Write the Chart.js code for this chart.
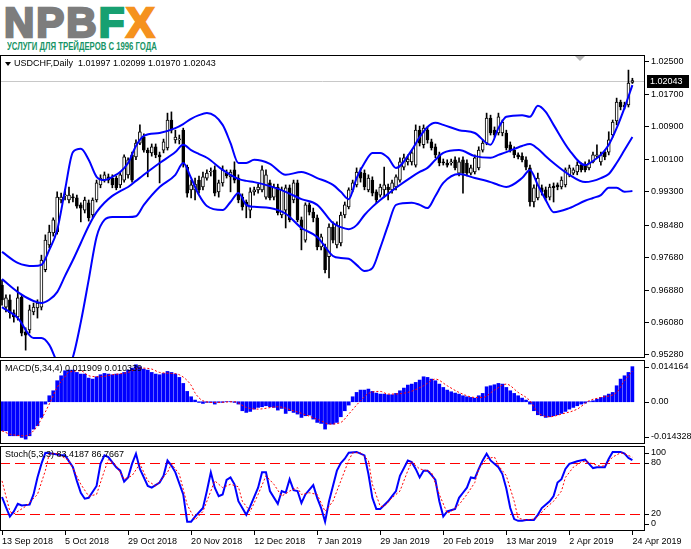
<!DOCTYPE html>
<html>
<head>
<meta charset="utf-8">
<title>USDCHF Daily</title>
<script src="https://cdn.jsdelivr.net/npm/chart.js@4.4.1/dist/chart.umd.min.js"></script>
<style>
  html, body { margin: 0; padding: 0; background: #fff; }
  #wrap { position: relative; width: 691px; height: 549px; overflow: hidden; background: #fff;
          font-family: "Liberation Sans", Arial, sans-serif; }
  #logo { position: absolute; left: 4px; top: 2px; font-family: "Liberation Sans", Arial, sans-serif;
          font-size: 42px; font-weight: 700; line-height: 42px; letter-spacing: 2px; color: #7d7d7d;
          -webkit-text-stroke: 2.5px currentColor; white-space: nowrap; transform-origin: 0 0; }
  #logo .f { color: #17a071; }
  #logo .x { color: #f5921e; }
  #slogan { position: absolute; left: 7px; top: 40px; font-size: 11px; font-weight: bold; color: #169466;
            white-space: nowrap; transform-origin: 0 0; }
  canvas { position: absolute; left: 0; }
</style>
</head>
<body>
<div id="wrap">
  <div id="logo">NPB<span class="f">F</span><span class="x">X</span></div>
  <div id="slogan">УСЛУГИ ДЛЯ ТРЕЙДЕРОВ С 1996 ГОДА</div>
  <canvas id="main" width="691" height="303" style="top:55px"></canvas>
  <canvas id="macd" width="691" height="84" style="top:360px"></canvas>
  <canvas id="stoch" width="691" height="103" style="top:446px"></canvas>
</div>
<script>
// --- dates on the time axis (one label every 16 bars) ---
const tickDates = ['13 Sep 2018', '5 Oct 2018', '29 Oct 2018', '20 Nov 2018', '12 Dec 2018', '7 Jan 2019',
                   '29 Jan 2019', '20 Feb 2019', '13 Mar 2019', '2 Apr 2019', '24 Apr 2019'];
const barsPerDate = 16;
const priceTicks = [1.025, 1.017, 1.009, 1.001, 0.993, 0.9848, 0.9768, 0.9688, 0.9608, 0.9528];
const priceRange = [0.95206, 1.02672];
const xRange = [-0.51, 163.2];

// --- USDCHF daily candles ---
const opens = [
  0.9700,0.9646,0.9664,0.9632,0.9622,0.9671,0.9585,0.9590,0.9634,0.9644,
  0.9646,0.9738,0.9799,0.9829,0.9831,0.9910,0.9920,0.9910,0.9917,0.9915,
  0.9898,0.9885,0.9903,0.9873,0.9910,0.9947,0.9959,0.9967,0.9964,0.9964,
  0.9947,0.9959,0.9972,1.0021,1.0016,1.0050,1.0065,1.0033,1.0026,1.0041,
  1.0021,1.0033,1.0038,1.0107,1.0058,1.0058,1.0082,0.9991,0.9935,0.9935,
  0.9959,0.9942,0.9964,0.9979,0.9984,0.9930,0.9952,0.9976,0.9967,0.9984,
  0.9964,0.9917,0.9905,0.9885,0.9930,0.9935,0.9935,0.9917,0.9952,0.9917,
  0.9942,0.9873,0.9885,0.9940,0.9910,0.9952,0.9861,0.9811,0.9898,0.9880,
  0.9866,0.9794,0.9794,0.9770,0.9843,0.9799,0.9804,0.9873,0.9893,0.9935,
  0.9947,0.9979,0.9976,0.9935,0.9959,0.9930,0.9922,0.9935,0.9942,0.9935,
  0.9942,0.9959,0.9991,1.0004,1.0004,0.9996,1.0082,1.0046,1.0082,1.0053,
  1.0041,1.0021,1.0004,1.0001,1.0001,1.0009,0.9976,1.0009,1.0001,0.9976,
  0.9979,0.9989,1.0033,1.0050,1.0112,1.0082,1.0075,1.0075,1.0075,1.0046,
  1.0033,1.0021,1.0018,1.0009,0.9989,0.9905,0.9915,0.9940,0.9935,0.9917,
  0.9944,0.9947,0.9942,0.9947,0.9972,0.9976,0.9979,0.9996,0.9996,0.9989,
  1.0004,1.0018,1.0004,1.0028,1.0028,1.0070,1.0105,1.0151,1.0139,1.0144,
  1.01997
];
const highs = [
  0.9713,0.9676,0.9676,0.9639,0.9696,0.9676,0.9595,0.9651,0.9656,0.9664,
  0.9774,0.9824,0.9848,0.9866,0.9930,0.9927,0.9935,0.9942,0.9925,0.9922,
  0.9903,0.9917,0.9910,0.9915,0.9959,0.9972,0.9979,0.9974,0.9972,0.9969,
  0.9979,1.0021,1.0014,1.0028,1.0058,1.0095,1.0073,1.0038,1.0048,1.0048,
  1.0028,1.0060,1.0124,1.0127,1.0082,1.0070,1.0087,0.9996,0.9959,0.9964,
  0.9969,0.9979,0.9984,0.9989,0.9994,0.9959,0.9994,0.9984,0.9984,1.0004,
  0.9972,0.9925,0.9910,0.9940,0.9942,0.9949,0.9994,0.9984,0.9959,0.9949,
  0.9949,0.9942,0.9947,0.9947,0.9959,0.9959,0.9868,0.9903,0.9903,0.9890,
  0.9873,0.9826,0.9801,0.9851,0.9856,0.9856,0.9880,0.9905,0.9940,0.9959,
  0.9989,0.9989,0.9984,0.9972,0.9967,0.9935,0.9949,0.9991,0.9949,0.9959,
  0.9972,1.0014,1.0023,1.0021,1.0033,1.0095,1.0092,1.0095,1.0090,1.0060,
  1.0048,1.0028,1.0011,1.0009,1.0011,1.0016,1.0014,1.0016,1.0009,0.9996,
  1.0021,1.0041,1.0058,1.0124,1.0119,1.0090,1.0124,1.0107,1.0082,1.0053,
  1.0041,1.0026,1.0026,1.0016,0.9996,0.9947,0.9976,0.9947,0.9942,0.9949,
  0.9952,0.9952,0.9967,0.9989,0.9996,0.9989,1.0004,1.0001,1.0004,1.0009,
  1.0028,1.0046,1.0028,1.0033,1.0078,1.0107,1.0161,1.0156,1.0151,1.0230,
  1.02099
];
const lows = [
  0.9651,0.9634,0.9619,0.9609,0.9614,0.9575,0.9540,0.9582,0.9627,0.9619,
  0.9639,0.9733,0.9792,0.9821,0.9826,0.9903,0.9910,0.9903,0.9905,0.9890,
  0.9856,0.9878,0.9858,0.9866,0.9905,0.9940,0.9954,0.9952,0.9940,0.9935,
  0.9940,0.9954,0.9964,0.9954,1.0009,1.0046,1.0028,0.9967,1.0018,1.0014,
  0.9952,1.0026,1.0033,1.0075,1.0050,1.0048,0.9991,0.9917,0.9915,0.9910,
  0.9927,0.9935,0.9959,0.9969,0.9920,0.9917,0.9944,0.9964,0.9930,0.9952,
  0.9903,0.9885,0.9866,0.9866,0.9922,0.9927,0.9930,0.9912,0.9910,0.9910,
  0.9873,0.9866,0.9841,0.9856,0.9903,0.9856,0.9787,0.9806,0.9873,0.9856,
  0.9787,0.9787,0.9730,0.9718,0.9804,0.9792,0.9797,0.9866,0.9888,0.9930,
  0.9942,0.9954,0.9935,0.9930,0.9920,0.9903,0.9917,0.9917,0.9910,0.9927,
  0.9935,0.9954,0.9984,0.9996,0.9996,0.9991,1.0043,1.0038,1.0050,1.0033,
  1.0014,0.9994,0.9996,0.9991,0.9996,0.9984,0.9969,0.9927,0.9969,0.9972,
  0.9974,0.9984,1.0028,1.0046,1.0070,1.0065,1.0070,1.0068,1.0033,1.0028,
  1.0014,1.0011,1.0004,0.9984,0.9895,0.9893,0.9910,0.9922,0.9908,0.9910,
  0.9905,0.9935,0.9937,0.9942,0.9967,0.9972,0.9972,0.9979,0.9979,0.9984,
  1.0001,1.0014,0.9996,1.0009,1.0021,1.0065,1.0095,1.0132,1.0134,1.0139,
  1.01970
];
const closes = [
  0.9664,0.9669,0.9632,0.9622,0.9669,0.9582,0.9577,0.9639,0.9646,0.9656,
  0.9762,0.9811,0.9831,0.9861,0.9917,0.9917,0.9922,0.9922,0.9915,0.9895,
  0.9890,0.9910,0.9866,0.9910,0.9952,0.9964,0.9972,0.9959,0.9947,0.9940,
  0.9972,1.0016,1.0009,0.9959,1.0050,1.0078,1.0033,1.0026,1.0041,1.0021,
  1.0016,1.0053,1.0107,1.0082,1.0065,1.0060,1.0001,0.9927,0.9947,0.9949,
  0.9935,0.9967,0.9976,0.9981,0.9927,0.9952,0.9984,0.9969,0.9979,0.9959,
  0.9910,0.9893,0.9898,0.9930,0.9935,0.9942,0.9984,0.9972,0.9915,0.9942,
  0.9878,0.9935,0.9940,0.9861,0.9952,0.9861,0.9836,0.9898,0.9880,0.9866,
  0.9794,0.9819,0.9738,0.9843,0.9811,0.9848,0.9873,0.9898,0.9935,0.9952,
  0.9979,0.9964,0.9942,0.9964,0.9927,0.9910,0.9942,0.9947,0.9935,0.9952,
  0.9967,1.0004,1.0014,1.0011,1.0026,1.0082,1.0050,1.0087,1.0058,1.0038,
  1.0021,1.0001,1.0001,0.9996,1.0004,0.9989,1.0004,0.9976,0.9976,0.9989,
  1.0014,1.0033,1.0050,1.0112,1.0075,1.0070,1.0115,1.0102,1.0038,1.0033,
  1.0021,1.0016,1.0009,0.9991,0.9905,0.9940,0.9964,0.9930,0.9915,0.9942,
  0.9940,0.9942,0.9959,0.9984,0.9989,0.9984,0.9996,0.9984,0.9984,1.0001,
  1.0021,1.0021,1.0021,1.0016,1.0058,1.0102,1.0151,1.0139,1.0144,1.0198,
  1.02043
];

// --- Bollinger bands, read at these bars ---
const bandBars = [0,4,8,10,12,14,16,18,20,22, 24,26,28,30,32,34,36,40,44,46,
                  48,50,52,56,58,60,62,64,68,72, 76,80,84,86,88,90,92,94,96,98,
                  100,104,106,108,110,112,116,120,124,126, 128,132,134,136,138,140,144,148,150,152,
                  154,156,158,160];
const bbUpper = [0.9782,0.9755,0.9747,0.9750,0.9787,0.9836,0.9935,1.0028,1.0036,1.0009,
                 0.9967,0.9959,0.9967,0.9979,1.0001,1.0043,1.0068,1.0075,1.0087,1.0097,
                 1.0110,1.0119,1.0124,1.0095,1.0050,1.0001,1.0001,1.0009,0.9999,0.9972,
                 0.9979,0.9964,0.9947,0.9930,0.9912,0.9964,1.0001,1.0026,1.0026,1.0014,
                 0.9989,1.0033,1.0065,1.0090,1.0100,1.0095,1.0082,1.0075,1.0046,1.0087,
                 1.0115,1.0119,1.0115,1.0142,1.0127,1.0095,1.0033,0.9996,1.0006,1.0021,
                 1.0046,1.0087,1.0137,1.0193];
const bbMiddle = [0.9715,0.9683,0.9661,0.9656,0.9664,0.9683,0.9723,0.9762,0.9804,0.9846,
                  0.9880,0.9903,0.9920,0.9932,0.9942,0.9957,0.9972,1.0001,1.0028,1.0046,
                  1.0033,1.0023,1.0014,0.9984,0.9972,0.9962,0.9957,0.9954,0.9944,0.9930,
                  0.9912,0.9898,0.9853,0.9843,0.9838,0.9848,0.9873,0.9893,0.9910,0.9925,
                  0.9940,0.9967,0.9979,0.9989,1.0009,1.0026,1.0033,1.0018,1.0014,1.0021,
                  1.0028,1.0043,1.0048,1.0036,1.0018,1.0001,0.9972,0.9954,0.9957,0.9964,
                  0.9974,1.0001,1.0033,1.0065];
const bbLower = [0.9646,0.9619,0.9570,0.9570,0.9553,0.9511,0.9486,0.9523,0.9609,0.9713,
                 0.9819,0.9861,0.9868,0.9868,0.9868,0.9870,0.9898,0.9942,0.9972,1.0001,
                 0.9964,0.9922,0.9895,0.9885,0.9905,0.9927,0.9898,0.9893,0.9890,0.9876,
                 0.9841,0.9819,0.9772,0.9767,0.9765,0.9750,0.9735,0.9742,0.9792,0.9848,
                 0.9898,0.9903,0.9898,0.9890,0.9920,0.9952,0.9974,0.9964,0.9954,0.9947,
                 0.9942,0.9964,0.9984,0.9947,0.9910,0.9880,0.9890,0.9908,0.9915,0.9922,
                 0.9940,0.9940,0.9930,0.9932];

// --- MACD(5,34,4) ---
const macdRange = [-0.014328, 0.014164];
const macdHist = [
  -0.00984,-0.00984,-0.01154,-0.01154,-0.01154,-0.01210,-0.01267,-0.01154,-0.00927,-0.00814,
  -0.00532,-0.00079,0.00204,0.00373,0.00713,0.00882,0.01052,0.01074,0.01074,0.00995,
  0.00939,0.00939,0.00803,0.00769,0.00848,0.00916,0.00961,0.00939,0.00916,0.00939,
  0.00939,0.00995,0.01074,0.01142,0.01255,0.01188,0.01108,0.01074,0.00995,0.00939,
  0.00916,0.00961,0.01029,0.00995,0.00939,0.00826,0.00622,0.00351,0.00170,0.00057,
  -0.00023,-0.00057,-0.00023,-0.00023,-0.00079,-0.00023,-0.00023,0.00005,0.00005,-0.00023,
  -0.00079,-0.00305,-0.00362,-0.00328,-0.00249,-0.00192,-0.00170,-0.00136,-0.00170,-0.00192,
  -0.00283,-0.00226,-0.00396,-0.00305,-0.00362,-0.00418,-0.00532,-0.00475,-0.00452,-0.00588,
  -0.00701,-0.00735,-0.00927,-0.00758,-0.00758,-0.00701,-0.00509,-0.00305,-0.00113,0.00170,
  0.00317,0.00396,0.00396,0.00430,0.00351,0.00294,0.00260,0.00260,0.00238,0.00238,
  0.00283,0.00373,0.00464,0.00566,0.00599,0.00656,0.00735,0.00848,0.00826,0.00769,
  0.00713,0.00599,0.00486,0.00396,0.00339,0.00294,0.00260,0.00204,0.00170,0.00147,
  0.00124,0.00204,0.00283,0.00509,0.00543,0.00577,0.00622,0.00599,0.00486,0.00373,
  0.00283,0.00204,0.00124,0.00057,-0.00079,-0.00305,-0.00441,-0.00475,-0.00532,-0.00509,
  -0.00475,-0.00441,-0.00396,-0.00328,-0.00249,-0.00192,-0.00136,-0.00079,-0.00045,0.00005,
  0.00034,0.00090,0.00147,0.00204,0.00260,0.00317,0.00543,0.00769,0.00882,0.00995,
  0.011909
];
// [bar, value]
const macdSignal = [[0,-0.00984],[2,-0.01097],[6,-0.01154],[8,-0.00984],[10,-0.00588],[12,-0.00079],
  [14,0.00486],[16,0.0085],[17,0.0100],[20,0.01052],[22,0.00882],[25,0.00848],[28,0.00916],[32,0.00995],
  [35,0.01142],[38,0.01108],[40,0.00995],[43,0.00961],[45,0.00916],[48,0.0056],[49,0.0030],[51,0.00034],
  [54,-0.00023],[59,0.0],[62,-0.00192],[65,-0.00249],[70,-0.00170],[74,-0.00305],[77,-0.00441],
  [81,-0.00645],[83,-0.00758],[86,-0.00701],[88,-0.00418],[91,0.00034],[93,0.00283],[96,0.00351],
  [98,0.00260],[103,0.00317],[107,0.00543],[110,0.00769],[113,0.00543],[116,0.00317],[120,0.00147],
  [122,0.00147],[125,0.00396],[128,0.00599],[131,0.00317],[134,0.00034],[136,-0.00362],[139,-0.00509],
  [142,-0.00418],[146,-0.00249],[149,0.00034],[152,0.00147],[156,0.00317],[158,0.00713],[160,0.010339]];

// --- Stochastic(5,3,3), [bar, value] ---
const stochLevels = [80, 20];
const stochMain = [[0,40],[1,28],[2,17],[3,23],[4,32],[5,30],[7,31],[8,43],[9,63],[10,79],[11,92],[13,91],
  [15,89],[16,89],[18,75],[19,59],[20,45],[21,38],[22,39],[24,53],[25,79],[26,89],[27,87],[29,75],[30,71],
  [31,58],[32,63],[33,79],[34,91],[35,73],[37,53],[38,51],[40,57],[41,65],[42,83],[43,77],[44,69],[46,43],
  [47,11],[48,11],[49,17],[51,27],[52,47],[53,69],[54,51],[55,41],[56,43],[57,60],[58,63],[59,55],[60,35],
  [62,19],[63,29],[65,51],[66,69],[67,69],[68,47],[70,32],[71,47],[72,45],[73,61],[74,48],[75,47],[76,33],
  [77,43],[79,54],[80,39],[81,27],[82,11],[83,35],[85,71],[86,80],[87,85],[88,92],[90,93],[92,89],[93,67],
  [94,39],[95,26],[96,26],[98,35],[99,41],[100,47],[101,65],[103,83],[104,81],[105,73],[106,63],[107,71],
  [108,71],[109,66],[110,60],[111,35],[112,17],[113,23],[115,26],[116,39],[117,45],[118,51],[119,63],
  [120,62],[121,73],[122,83],[123,91],[124,83],[126,75],[127,67],[128,50],[129,27],[130,14],[131,12],
  [132,12],[133,13],[135,13],[136,19],[137,27],[139,35],[140,41],[141,57],[142,61],[143,73],[144,79],
  [146,82],[148,84],[149,79],[150,74],[151,75],[153,75],[154,85],[155,93],[157,93],[158,91],[159,86],
  [160,83.4187]];
const stochSignal = [[0,59],[2,23],[3,20],[6,29],[9,43],[11,71],[12,91],[14,91],[17,83],[20,55],[22,41],
  [24,43],[26,71],[27,84],[29,77],[31,61],[33,65],[35,79],[37,59],[39,53],[42,69],[43,79],[45,67],[47,31],
  [49,13],[51,23],[53,47],[54,59],[56,51],[58,55],[60,52],[61,35],[63,23],[65,43],[67,65],[69,55],[71,41],
  [73,47],[75,51],[76,43],[78,45],[80,43],[82,23],[84,35],[86,59],[88,83],[89,92],[91,92],[93,83],[94,55],
  [96,29],[97,29],[99,39],[101,47],[103,71],[104,81],[106,73],[108,71],[109,69],[111,43],[113,21],[114,23],
  [116,31],[118,43],[120,57],[121,73],[123,85],[125,87],[126,77],[128,65],[130,35],[131,15],[133,13],
  [135,14],[136,17],[138,27],[140,35],[142,47],[143,63],[145,75],[147,81],[148,82],[150,79],[152,76],
  [153,77],[155,87],[157,92],[158,91],[160,86.7667]];

// fit the logo texts to their boxes
const logo = document.getElementById('logo');
logo.style.transform = 'scaleX(' + (152 / logo.offsetWidth) + ')';
const slogan = document.getElementById('slogan');
slogan.style.transform = 'scaleX(' + (150 / slogan.offsetWidth) + ')';

Chart.defaults.font.family = '"Liberation Sans", Arial, sans-serif';
Chart.defaults.font.size = 9;
Chart.defaults.color = '#000';
Chart.defaults.animation = false;

const FONT = '9px "Liberation Sans", Arial, sans-serif';
const last = closes.length - 1;
const pts = arr => arr.map(([x, y]) => ({ x, y }));
const band = arr => bandBars.map((b, k) => ({ x: b, y: arr[k] }));

// black frame round each pane
const framePlugin = {
  id: 'frame',
  afterDraw(chart) {
    const { ctx, chartArea: a } = chart;
    ctx.save();
    ctx.strokeStyle = '#000';
    ctx.lineWidth = 1;
    ctx.strokeRect(Math.round(a.left) + 0.5, Math.round(a.top) + 0.5,
                   Math.round(a.right - a.left) - 1, Math.round(a.bottom - a.top) - 1);
    ctx.restore();
  }
};

function paneTitle(text) {
  return {
    id: 'paneTitle',
    afterDatasetsDraw(chart) {
      const { ctx, chartArea: a } = chart;
      ctx.save();
      ctx.font = FONT;
      ctx.fillStyle = '#000';
      ctx.textBaseline = 'middle';
      ctx.fillText(text, a.left + 5, a.top + 9);
      ctx.restore();
    }
  };
}

// right hand labels of the indicator panes (MT4 keeps the edge ones inside)
function sideLabels(items) {
  return {
    id: 'sideLabels',
    afterDraw(chart) {
      const { ctx, chartArea: a, scales: { y } } = chart;
      ctx.save();
      ctx.font = FONT;
      ctx.fillStyle = '#000';
      ctx.strokeStyle = '#000';
      ctx.textBaseline = 'middle';
      items.forEach(it => {
        const py = Math.min(Math.max(y.getPixelForValue(it.value), a.top + 7), a.bottom - 7);
        ctx.beginPath();
        ctx.moveTo(a.right, Math.round(py) + 0.5);
        ctx.lineTo(a.right + 4, Math.round(py) + 0.5);
        ctx.stroke();
        ctx.fillText(it.text, a.right + 6, py);
      });
      ctx.restore();
    }
  };
}

const mainDecor = {
  id: 'mainDecor',
  beforeDatasetsDraw(chart) {
    const { ctx, chartArea: a, scales: { y } } = chart;
    const py = Math.round(y.getPixelForValue(closes[last])) + 0.5;
    ctx.save();
    ctx.strokeStyle = '#c8c8c8';
    ctx.lineWidth = 1;
    ctx.beginPath();
    ctx.moveTo(a.left, py);
    ctx.lineTo(a.right, py);
    ctx.stroke();
    ctx.restore();
  },
  afterDatasetsDraw(chart) {
    const { ctx, chartArea: a } = chart;
    ctx.save();
    // small triangle + symbol header
    ctx.fillStyle = '#000';
    ctx.beginPath();
    ctx.moveTo(a.left + 5, a.top + 7);
    ctx.lineTo(a.left + 11, a.top + 7);
    ctx.lineTo(a.left + 8, a.top + 11);
    ctx.closePath();
    ctx.fill();
    ctx.font = FONT;
    ctx.textBaseline = 'middle';
    const head = 'USDCHF,Daily  ' + [opens[last], highs[last], lows[last], closes[last]]
      .map(v => v.toFixed(5)).join(' ');
    ctx.fillText(head, a.left + 14, a.top + 9);
    // chart shift marker
    ctx.fillStyle = '#b4b4b4';
    ctx.beginPath();
    ctx.moveTo(a.left + 575, a.top + 1);
    ctx.lineTo(a.left + 585, a.top + 1);
    ctx.lineTo(a.left + 580, a.top + 6);
    ctx.closePath();
    ctx.fill();
    ctx.restore();
  },
  afterDraw(chart) {
    const { ctx, chartArea: a, scales: { y } } = chart;
    const py = Math.round(y.getPixelForValue(closes[last]));
    ctx.save();
    ctx.fillStyle = '#000';
    ctx.fillRect(a.right + 2, py - 6, 42, 13);
    ctx.fillStyle = '#fff';
    ctx.font = FONT;
    ctx.textBaseline = 'middle';
    ctx.fillText(closes[last].toFixed(5), a.right + 5, py + 0.5);
    ctx.restore();
  }
};

// bar charts offset the x axis by default: switch that off so all panes share the same bar positions
const hiddenX = { type: 'linear', min: xRange[0], max: xRange[1], offset: false, display: false };
const common = {
  responsive: false,
  maintainAspectRatio: false,
  events: [],
  plugins: { legend: { display: false }, tooltip: { enabled: false } }
};

// ---------- price pane ----------
new Chart(document.getElementById('main'), {
  type: 'bar',
  data: {
    datasets: [
      { type: 'line', data: band(bbUpper), borderColor: '#0000ff', borderWidth: 2, pointRadius: 0,
        cubicInterpolationMode: 'monotone', order: 0 },
      { type: 'line', data: band(bbMiddle), borderColor: '#0000ff', borderWidth: 2, pointRadius: 0,
        cubicInterpolationMode: 'monotone', order: 0 },
      { type: 'line', data: band(bbLower), borderColor: '#0000ff', borderWidth: 2, pointRadius: 0,
        cubicInterpolationMode: 'monotone', order: 0 },
      { type: 'bar', data: closes.map((c, i) => ({ x: i, y: [opens[i], c] })),
        backgroundColor: ctx => (closes[ctx.dataIndex] >= opens[ctx.dataIndex] ? '#ffffff' : '#000000'),
        borderColor: '#000', borderWidth: 1, borderSkipped: false, barThickness: 3, minBarLength: 1,
        grouped: false, order: 1 },
      { type: 'bar', data: closes.map((c, i) => ({ x: i, y: [lows[i], highs[i]] })),
        backgroundColor: '#000', barThickness: 1, grouped: false, order: 2 }
    ]
  },
  options: {
    ...common,
    layout: { padding: 0 },
    scales: {
      x: hiddenX,
      y: {
        position: 'right', min: priceRange[0], max: priceRange[1],
        afterBuildTicks: s => { s.ticks = priceTicks.map(v => ({ value: v })); },
        afterFit: s => { s.width = 46; s.paddingTop = 0; s.paddingBottom = 0; },
        ticks: { padding: 2, autoSkip: false, callback: v => Number(v).toFixed(5) },
        grid: { drawOnChartArea: false, tickLength: 4, color: '#000' },
        border: { display: false }
      }
    }
  },
  plugins: [framePlugin, mainDecor]
});

// ---------- MACD pane ----------
new Chart(document.getElementById('macd'), {
  type: 'bar',
  data: {
    datasets: [
      { type: 'line', data: pts(macdSignal), borderColor: '#ff0000', borderWidth: 1, borderDash: [2, 2],
        pointRadius: 0, cubicInterpolationMode: 'monotone', order: 0 },
      { type: 'bar', data: macdHist.map((v, i) => ({ x: i, y: v })), backgroundColor: '#0000ff',
        barThickness: 3, grouped: false, order: 1 }
    ]
  },
  options: {
    ...common,
    layout: { padding: { right: 46 } },
    scales: { x: hiddenX, y: { display: false, min: macdRange[0], max: macdRange[1] } }
  },
  plugins: [
    framePlugin,
    paneTitle('MACD(5,34,4) ' + macdHist[last].toFixed(6) + ' ' + macdSignal[macdSignal.length - 1][1].toFixed(6)),
    sideLabels([
      { value: macdRange[1], text: macdRange[1].toFixed(6) },
      { value: 0, text: '0.00' },
      { value: macdRange[0], text: macdRange[0].toFixed(6) }
    ])
  ]
});

// ---------- Stochastic pane ----------
const levelsPlugin = {
  id: 'levels',
  beforeDatasetsDraw(chart) {
    const { ctx, chartArea: a, scales: { y } } = chart;
    ctx.save();
    ctx.strokeStyle = '#ff0000';
    ctx.lineWidth = 1;
    ctx.setLineDash([10, 5]);
    stochLevels.forEach(l => {
      const py = Math.round(y.getPixelForValue(l)) + 0.5;
      ctx.beginPath();
      ctx.moveTo(a.left, py);
      ctx.lineTo(a.right, py);
      ctx.stroke();
    });
    ctx.restore();
  }
};

new Chart(document.getElementById('stoch'), {
  type: 'line',
  data: {
    datasets: [
      { data: pts(stochSignal), borderColor: '#ff0000', borderWidth: 1, borderDash: [2, 2], pointRadius: 0,
        tension: 0, order: 0 },
      { data: pts(stochMain), borderColor: '#0000ff', borderWidth: 2, pointRadius: 0, tension: 0, order: 1 }
    ]
  },
  options: {
    ...common,
    layout: { padding: { right: 46 } },
    scales: {
      x: {
        type: 'linear', min: xRange[0], max: xRange[1], offset: false, position: 'bottom',
        afterBuildTicks: s => { s.ticks = tickDates.map((d, k) => ({ value: k * barsPerDate })); },
        afterFit: s => { s.height = 18; s.paddingLeft = 0; s.paddingRight = 0; },
        ticks: { align: 'start', padding: 1, maxRotation: 0, autoSkip: false,
                 callback: v => tickDates[Math.round(v / barsPerDate)] },
        grid: { drawOnChartArea: false, tickLength: 4, color: '#000' },
        border: { display: false }
      },
      y: { display: false, min: 0, max: 100 }
    }
  },
  plugins: [
    framePlugin,
    levelsPlugin,
    paneTitle('Stoch(5,3,3) ' + stochMain[stochMain.length - 1][1].toFixed(4) + ' ' +
              stochSignal[stochSignal.length - 1][1].toFixed(4)),
    sideLabels([100, 80, 20, 0].map(v => ({ value: v, text: String(v) })))
  ]
});
</script>
</body>
</html>
